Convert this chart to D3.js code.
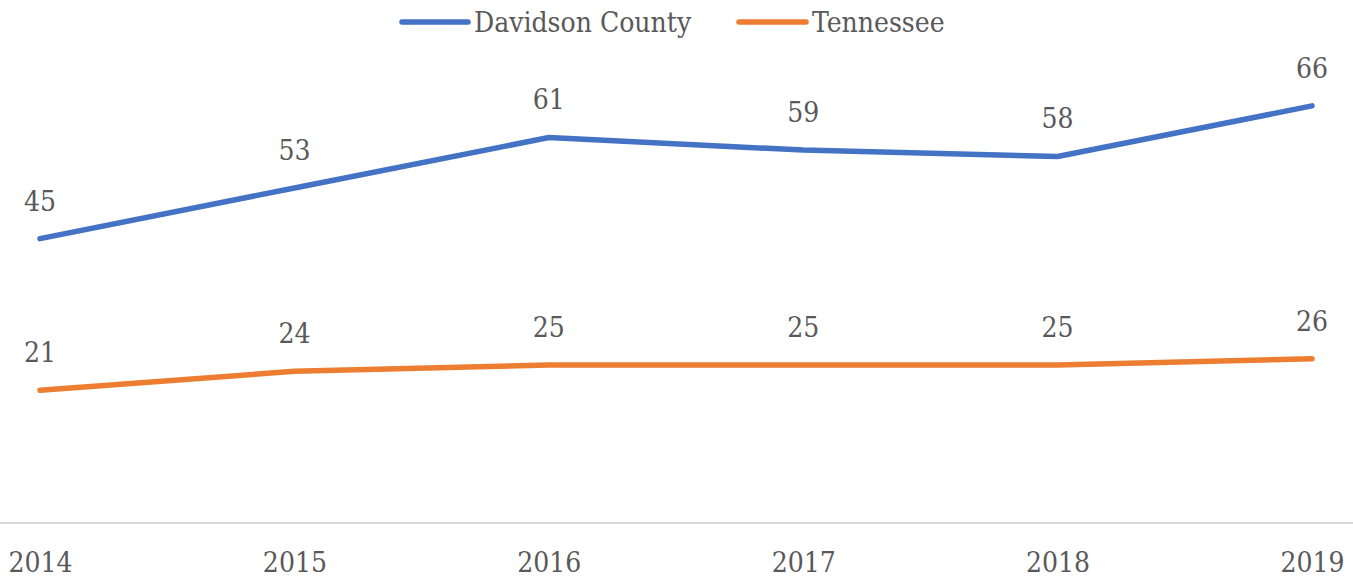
<!DOCTYPE html>
<html>
<head>
<meta charset="utf-8">
<script src="https://cdn.jsdelivr.net/npm/d3@7"></script>
<style>
  html, body { margin: 0; padding: 0; background: #fff; }
  svg { display: block; }
  text { font-family: "DejaVu Serif Condensed", "DejaVu Serif", "Liberation Serif", serif; fill: #595959; }
</style>
</head>
<body>
<svg id="chart" width="1353" height="578"></svg>
<script>
const years = ["2014", "2015", "2016", "2017", "2018", "2019"];
const davidson = [45, 53, 61, 59, 58, 66];
const tennessee = [21, 24, 25, 25, 25, 26];
const seriesNames = ["Davidson County", "Tennessee"];
const seriesColors = ["#4472C4", "#ED7D31"];

const W = 1353, H = 578;
const svg = d3.select("#chart");

const x = d3.scalePoint().domain(years).range([40, 1312]);
const y = d3.scaleLinear().domain([0, 80]).range([523, 17.4]);

// baseline
svg.append("line")
  .attr("x1", 0).attr("x2", W)
  .attr("y1", y(0)).attr("y2", y(0))
  .attr("stroke", "#d9d9d9").attr("stroke-width", 2);

// category axis labels
const xAxis = d3.axisBottom(x).tickSize(0).tickPadding(0);
const gx = svg.append("g").attr("transform", `translate(0, ${y(0)})`).call(xAxis);
gx.select(".domain").remove();
gx.selectAll("text")
  .attr("dy", null).attr("y", 49)
  .style("font-size", "28px")
  .style("font-family", '"DejaVu Serif Condensed", "DejaVu Serif", serif')
  .attr("fill", "#595959");

const series = [davidson, tennessee];
const line = d3.line().x((d, i) => x(years[i])).y(d => y(d));

series.forEach((vals, s) => {
  svg.append("path")
    .attr("d", line(vals))
    .attr("fill", "none")
    .attr("stroke", seriesColors[s])
    .attr("stroke-width", 5.5)
    .attr("stroke-linecap", "round")
    .attr("stroke-linejoin", "round");

  svg.append("g").selectAll("text")
    .data(vals)
    .join("text")
    .attr("x", (d, i) => x(years[i]))
    .attr("y", d => y(d) - 28)
    .attr("text-anchor", "middle")
    .style("font-size", "28px")
    .text(d => d);
});

// legend
const legendItems = [
  { name: seriesNames[0], color: seriesColors[0], x1: 402, x2: 468, tx: 474 },
  { name: seriesNames[1], color: seriesColors[1], x1: 739, x2: 806, tx: 812 }
];
const lg = svg.append("g");
legendItems.forEach(it => {
  lg.append("line")
    .attr("x1", it.x1).attr("x2", it.x2)
    .attr("y1", 22).attr("y2", 22)
    .attr("stroke", it.color).attr("stroke-width", 5.5)
    .attr("stroke-linecap", "round");
  lg.append("text")
    .attr("x", it.tx).attr("y", 32)
    .style("font-size", "28px")
    .text(it.name);
});
</script>
</body>
</html>
